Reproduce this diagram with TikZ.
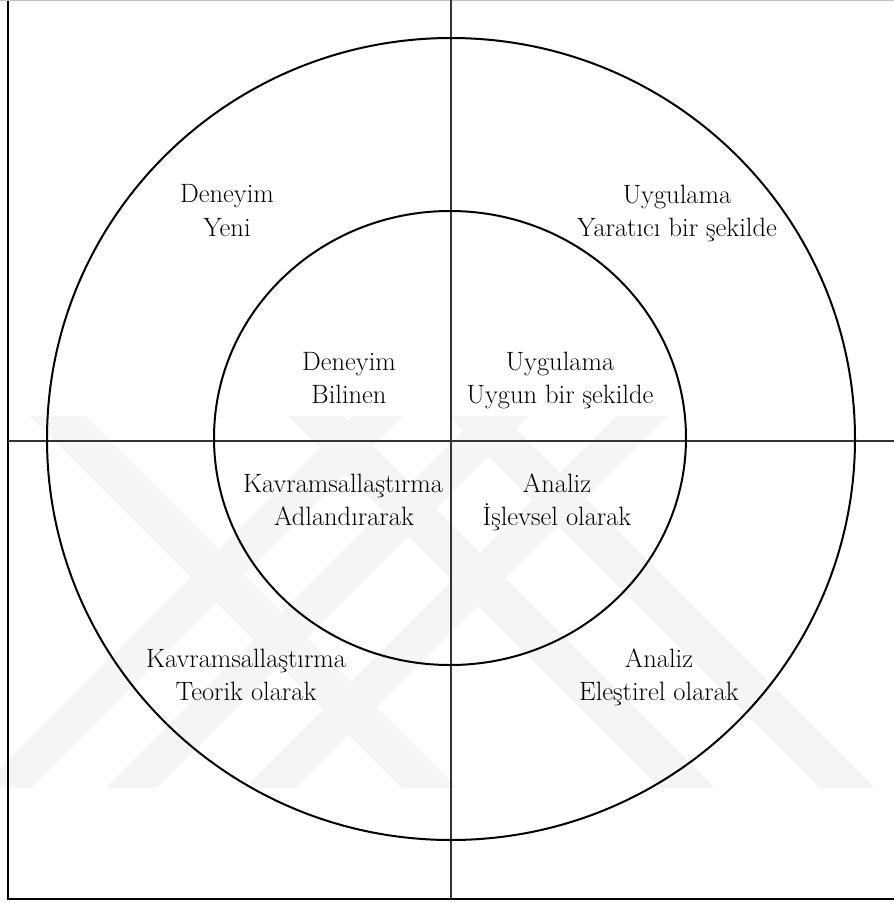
\documentclass[tikz,border=0pt]{standalone}
\usepackage{fontspec}
\begin{document}
\begin{tikzpicture}[x=1pt,y=-1pt,
  lbl/.style={anchor=base,font=\rmfamily\fontsize{26.5}{33}\selectfont,inner sep=0pt},
  ring/.style={draw=black,line width=2pt},
  axisline/.style={draw=black!80,line width=1.2pt},
  frameline/.style={draw=black,line width=2pt},
  wm/.style={fill=black!4,draw=none}]
\useasboundingbox (0,0) rectangle (894,903);
% faint watermark bands
\foreach \a in {352,478,617} {
  \fill[wm] (\a,416) -- (\a+51,416) -- (\a+51-372,788) -- (\a-372,788) -- cycle;
}
\foreach \a in {30,288,448} {
  \fill[wm] (\a,416) -- (\a+55,416) -- (\a+55+372,788) -- (\a+372,788) -- cycle;
}
% frame
\draw[gray!50,line width=1pt] (0,0.5) -- (894,0.5);
\draw[frameline] (8,1) -- (8,899) -- (894,899);
% axes
\coordinate (vt) at (451,0);
\coordinate (vb) at (451,899);
\coordinate (hl) at (8,441);
\coordinate (hr) at (894,441);
\draw[axisline] (vt) -- (vb);
\draw[axisline] (hl) -- (hr);
% rings
\draw[ring] (451,439) ellipse [x radius=404, y radius=401];
\draw[ring] (450,438) ellipse [x radius=236, y radius=227];
% outer labels
\node[lbl] (oa1) at (227,202) {Deneyim};
\node[lbl] (oa2) at (227,236) {Yeni};
\node[lbl] (ob1) at (677,203) {Uygulama};
\node[lbl] (ob2) at (677,236) {Yaratıcı bir şekilde};
\node[lbl] (oc1) at (246,667) {Kavramsallaştırma};
\node[lbl] (oc2) at (246,700) {Teorik olarak};
\node[lbl] (od1) at (659,667) {Analiz};
\node[lbl] (od2) at (659,700) {Eleştirel olarak};
% inner labels
\node[lbl] (ia1) at (349,370) {Deneyim};
\node[lbl] (ia2) at (349,403) {Bilinen};
\node[lbl] (ib1) at (560,370) {Uygulama};
\node[lbl] (ib2) at (560,403) {Uygun bir şekilde};
\node[lbl] (ic1) at (343,492) {Kavramsallaştırma};
\node[lbl] (ic2) at (344,525) {Adlandırarak};
\node[lbl] (id1) at (557,492) {Analiz};
\node[lbl] (id2) at (557,525) {İşlevsel olarak};
\end{tikzpicture}
\end{document}
